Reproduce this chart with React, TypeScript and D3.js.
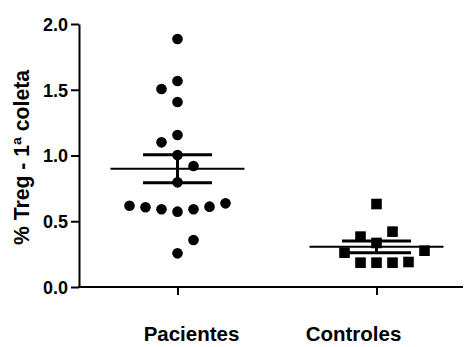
import { useRef, useEffect } from "react";
import * as d3 from "d3";

// Grupos e valores (% Treg - 1ª coleta)
const grupos = ["Pacientes", "Controles"];
const pacientesValores = [
  1.886, 1.567, 1.506, 1.407, 1.156, 1.1, 1.004, 0.92, 0.796, 0.618, 0.606,
  0.591, 0.573, 0.591, 0.611, 0.636, 0.357, 0.256,
];
// coluna horizontal de cada ponto no scatter (espalhamento do GraphPad)
const pacientesColunas = [0, 0, -1, 0, 0, -1, 0, 1, 0, -3, -2, -1, 0, 1, 2, 3, 1, 0];
const controlesValores = [0.631, 0.421, 0.383, 0.335, 0.261, 0.276, 0.185, 0.185, 0.185, 0.19];
const controlesColunas = [0, 1, -1, 0, -2, 3, -1, 0, 1, 2];
const yTicks = [0, 0.5, 1.0, 1.5, 2.0];

const W = 465;
const H = 347;
const FONT = "'Liberation Sans', Arial, Helvetica, sans-serif";
const COL_STEP = 16;
const R = 5.3;
const SQ = 10.6;
const MEAN_HALF = 67;
const SEM_HALF = 34.5;

const x = d3.scalePoint<string>().domain(grupos).range([78, 476]).padding(0.5);
const y = d3.scaleLinear().domain([0, 2]).range([287, 24]);

function stats(v: number[]) {
  const m = d3.mean(v) ?? 0;
  const sem = (d3.deviation(v) ?? 0) / Math.sqrt(v.length);
  return { m, sem };
}

function MeanSem({ cx, v }: { cx: number; v: number[] }) {
  const { m, sem } = stats(v);
  return (
    <g stroke="#000" fill="none">
      <line x1={cx - MEAN_HALF} x2={cx + MEAN_HALF} y1={y(m)} y2={y(m)} strokeWidth={2} />
      <line x1={cx - SEM_HALF} x2={cx + SEM_HALF} y1={y(m + sem)} y2={y(m + sem)} strokeWidth={3} />
      <line x1={cx - SEM_HALF} x2={cx + SEM_HALF} y1={y(m - sem)} y2={y(m - sem)} strokeWidth={3} />
      <line x1={cx} x2={cx} y1={y(m + sem)} y2={y(m - sem)} strokeWidth={3} />
    </g>
  );
}

export default function App() {
  const yAxisRef = useRef<SVGGElement>(null);
  const xAxisRef = useRef<SVGGElement>(null);

  useEffect(() => {
    if (!yAxisRef.current || !xAxisRef.current) return;
    d3.select(yAxisRef.current)
      .call(
        d3
          .axisLeft(y)
          .tickValues(yTicks)
          .tickSize(8)
          .tickSizeOuter(0)
          .tickPadding(3)
          .tickFormat((d) => d3.format(".1f")(d as number))
      )
      .call((g) => g.select(".domain").attr("stroke", "#000").attr("stroke-width", 2))
      .call((g) => g.selectAll(".tick line").attr("stroke", "#000").attr("stroke-width", 2))
      .call((g) =>
        g
          .selectAll<SVGTextElement, unknown>(".tick text")
          .attr("dy", "0.36em")
          .attr("fill", "#000")
          .attr("font-size", 18)
          .attr("font-weight", "bold")
          .attr("font-family", FONT)
      );

    d3.select(xAxisRef.current)
      .call(d3.axisBottom(x).tickSize(8).tickSizeOuter(0).tickFormat(() => ""))
      .call((g) =>
        g
          .select(".domain")
          .attr("stroke", "#000")
          .attr("stroke-width", 2)
          .attr("d", "M78,0H463")
      )
      .call((g) => g.selectAll(".tick line").attr("stroke", "#000").attr("stroke-width", 2));
  }, []);

  const px = x("Pacientes") ?? 0;
  const cx = x("Controles") ?? 0;
  const labelShift: Record<string, number> = { Pacientes: 14, Controles: -23 };

  return (
    <svg
      width={W}
      height={H}
      style={{ position: "absolute", left: 0, top: 0, background: "#fff" }}
    >
      {/* pontos: pacientes */}
      {pacientesValores.map((v, i) => (
        <circle key={`p${i}`} cx={px + pacientesColunas[i] * COL_STEP} cy={y(v)} r={R} fill="#000" />
      ))}
      {/* pontos: controles */}
      {controlesValores.map((v, i) => (
        <rect
          key={`c${i}`}
          x={cx + controlesColunas[i] * COL_STEP - SQ / 2}
          y={y(v) - SQ / 2}
          width={SQ}
          height={SQ}
          fill="#000"
        />
      ))}

      <MeanSem cx={px} v={pacientesValores} />
      <MeanSem cx={cx} v={controlesValores} />

      <g ref={xAxisRef} transform={`translate(0,${y(0)})`} />
      <g ref={yAxisRef} transform="translate(79,0)" />

      {/* rótulos do eixo x */}
      {grupos.map((gname) => (
        <text
          key={gname}
          x={(x(gname) ?? 0) + labelShift[gname]}
          y={341}
          textAnchor="middle"
          fontFamily={FONT}
          fontWeight="bold"
          fontSize={20.5}
        >
          {gname}
        </text>
      ))}

      {/* título do eixo y */}
      <text
        transform="translate(29,157.5) rotate(-90)"
        textAnchor="middle"
        fontFamily={FONT}
        fontWeight="bold"
        fontSize={21.2}
      >
        % Treg - 1ª coleta
      </text>
    </svg>
  );
}
